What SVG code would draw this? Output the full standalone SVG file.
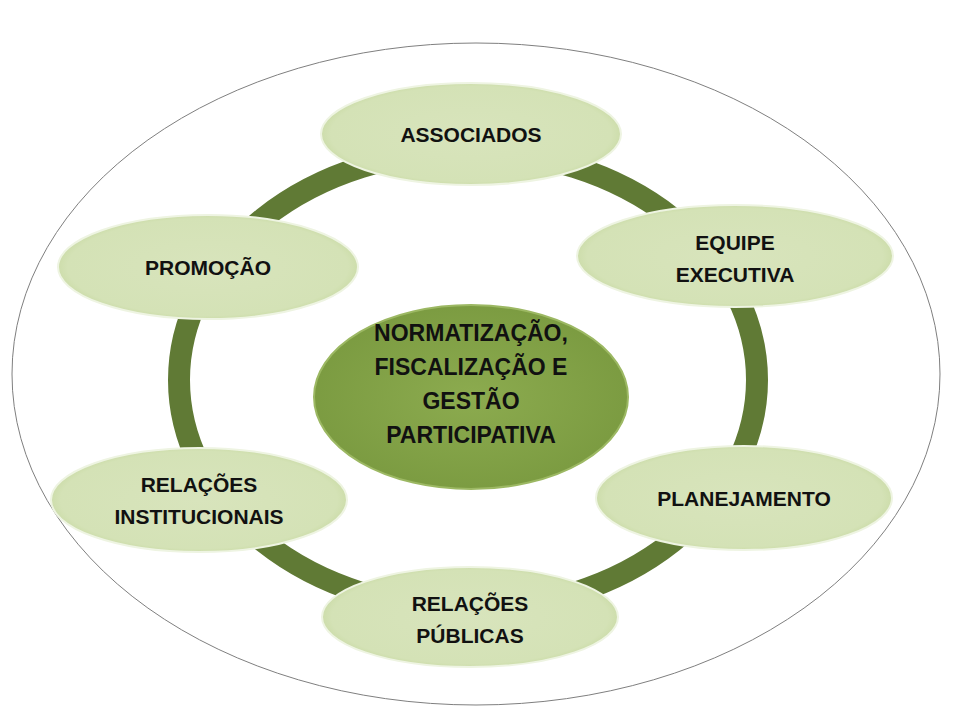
<svg xmlns="http://www.w3.org/2000/svg" width="953" height="720" viewBox="0 0 953 720">
<defs>
<radialGradient id="g1" cx="50%" cy="50%" r="55%">
<stop offset="0" stop-color="#d8e4bc"/><stop offset="0.85" stop-color="#d4e2b6"/><stop offset="1" stop-color="#c3d69b"/>
</radialGradient>
<radialGradient id="g2" cx="50%" cy="50%" r="55%">
<stop offset="0" stop-color="#8cab4f"/><stop offset="1" stop-color="#7a9a40"/>
</radialGradient>
</defs>
<style>
.n{fill:url(#g1);stroke:#eef4e2;stroke-width:2}
.t{font-family:"Liberation Sans",Arial,sans-serif;font-weight:bold;font-size:21px;fill:#111;text-anchor:middle}
.c{font-size:23px}
</style>
<rect width="953" height="720" fill="#fff"/>
<ellipse cx="476" cy="374" rx="464" ry="331" fill="none" stroke="#7f7f7f" stroke-width="1"/>
<g id="connectors">
<ellipse cx="468" cy="380" rx="289" ry="229" fill="none" stroke="#607a35" stroke-width="22"/>
</g>
<g id="center"><ellipse cx="471" cy="397" rx="157" ry="92" fill="url(#g2)" stroke="#9cb863" stroke-width="2"/>
<text class="t c"><tspan x="471" y="341">NORMATIZAÇÃO,</tspan><tspan x="471" y="375">FISCALIZAÇÃO E</tspan><tspan x="471" y="409">GESTÃO</tspan><tspan x="471" y="443">PARTICIPATIVA</tspan></text></g>
<g id="associados"><ellipse class="n" cx="471" cy="134" rx="150" ry="51"/><text class="t" x="471" y="142">ASSOCIADOS</text></g>
<g id="equipe"><ellipse class="n" cx="735" cy="256" rx="158" ry="51"/><text class="t"><tspan x="735" y="250">EQUIPE</tspan><tspan x="735" y="282">EXECUTIVA</tspan></text></g>
<g id="planejamento"><ellipse class="n" cx="744" cy="498" rx="148" ry="52"/><text class="t" x="744" y="506">PLANEJAMENTO</text></g>
<g id="publicas"><ellipse class="n" cx="470" cy="617" rx="148" ry="50"/><text class="t"><tspan x="470" y="611">RELAÇÕES</tspan><tspan x="470" y="643">PÚBLICAS</tspan></text></g>
<g id="institucionais"><ellipse class="n" cx="199" cy="500" rx="148" ry="52"/><text class="t"><tspan x="199" y="492">RELAÇÕES</tspan><tspan x="199" y="524">INSTITUCIONAIS</tspan></text></g>
<g id="promocao"><ellipse class="n" cx="208" cy="267" rx="150" ry="52"/><text class="t" x="208" y="275">PROMOÇÃO</text></g>
</svg>
